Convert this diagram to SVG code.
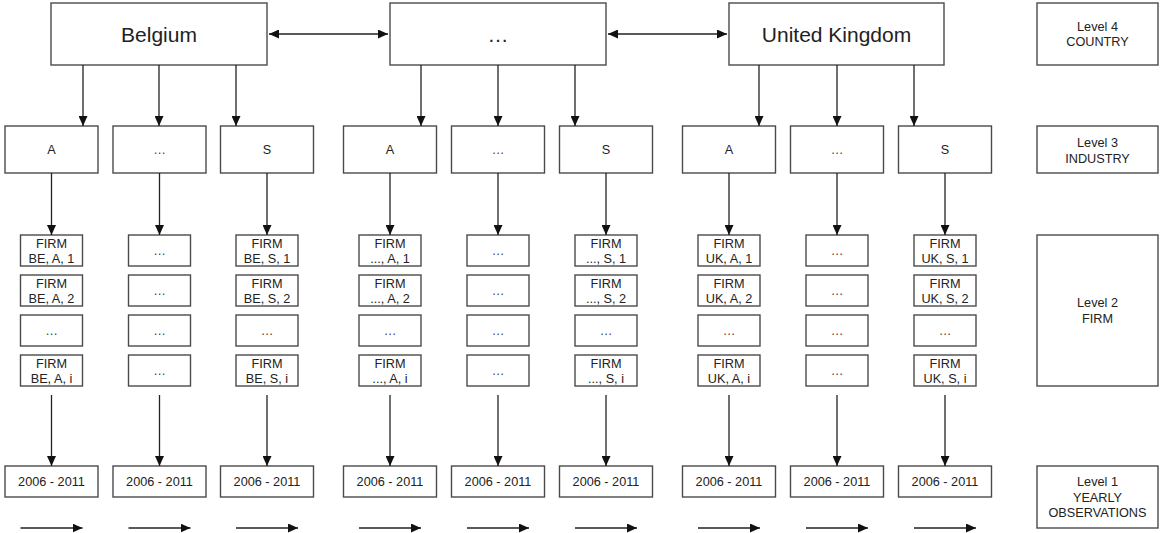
<svg xmlns="http://www.w3.org/2000/svg" width="1160" height="533" viewBox="0 0 1160 533">
  <style>
    .box { fill: #ffffff; stroke: #4a4a4a; stroke-width: 1.4; }
    .t { font-family: "Liberation Sans", Arial, Helvetica, sans-serif; font-size: 12.7px; fill: #222222; text-anchor: middle; }
    .big { font-size: 21px; }
    .dots { fill: #444444; }
    .conn line { stroke: #222222; stroke-width: 1.3; fill: none; }
    .one { marker-end: url(#ah); }
    .two { marker-start: url(#ah); marker-end: url(#ah); }
  </style>
  <defs>
    <marker id="ah" markerUnits="userSpaceOnUse" markerWidth="10" markerHeight="9" refX="10" refY="4.5" orient="auto-start-reverse">
      <path d="M0,0 L10,4.5 L0,9 Z" fill="#111111"/>
    </marker>
  </defs>
  <rect width="1160" height="533" fill="#ffffff"/>

  <!-- Level 4: countries -->
  <g id="country-be"><rect class="box" x="51" y="3" width="216" height="62"/><text class="t big" x="159" y="41.5">Belgium</text></g>
  <g id="country-mid"><rect class="box" x="390" y="3" width="216" height="62"/><text class="t big" x="498" y="41.5">…</text></g>
  <g id="country-uk"><rect class="box" x="729" y="3" width="215" height="62"/><text class="t big" x="836.5" y="41.5">United Kingdom</text></g>

  <!-- Level 3: industries -->
  <g id="ind-be-a"><rect class="box" x="5" y="126" width="93" height="47"/><text class="t" x="51.5" y="154">A</text></g>
  <g id="ind-be-mid"><rect class="box" x="113" y="126" width="93" height="47"/><text class="t dots" x="159.5" y="154">…</text></g>
  <g id="ind-be-s"><rect class="box" x="220.5" y="126" width="93" height="47"/><text class="t" x="267" y="154">S</text></g>
  <g id="ind-mid-a"><rect class="box" x="343.5" y="126" width="93" height="47"/><text class="t" x="390" y="154">A</text></g>
  <g id="ind-mid-mid"><rect class="box" x="451.5" y="126" width="93" height="47"/><text class="t dots" x="498" y="154">…</text></g>
  <g id="ind-mid-s"><rect class="box" x="559.5" y="126" width="93" height="47"/><text class="t" x="606" y="154">S</text></g>
  <g id="ind-uk-a"><rect class="box" x="682.5" y="126" width="93" height="47"/><text class="t" x="729" y="154">A</text></g>
  <g id="ind-uk-mid"><rect class="box" x="790.5" y="126" width="93" height="47"/><text class="t dots" x="837" y="154">…</text></g>
  <g id="ind-uk-s"><rect class="box" x="898.5" y="126" width="93" height="47"/><text class="t" x="945" y="154">S</text></g>

  <!-- Level 2: firms, Belgium -->
  <g id="firm-be-a-1"><rect class="box" x="20.5" y="235" width="62" height="31"/><text class="t" x="51.5" y="247.5">FIRM</text><text class="t" x="51.5" y="263">BE, A, 1</text></g>
  <g id="firm-be-a-2"><rect class="box" x="20.5" y="275" width="62" height="31"/><text class="t" x="51.5" y="287.5">FIRM</text><text class="t" x="51.5" y="303">BE, A, 2</text></g>
  <g id="firm-be-a-x"><rect class="box" x="20.5" y="315" width="62" height="31"/><text class="t dots" x="51.5" y="334.5">…</text></g>
  <g id="firm-be-a-i"><rect class="box" x="20.5" y="355" width="62" height="31"/><text class="t" x="51.5" y="367.5">FIRM</text><text class="t" x="51.5" y="383">BE, A, i</text></g>

  <g id="firm-be-m-1"><rect class="box" x="128.5" y="235" width="62" height="31"/><text class="t dots" x="159.5" y="254.5">…</text></g>
  <g id="firm-be-m-2"><rect class="box" x="128.5" y="275" width="62" height="31"/><text class="t dots" x="159.5" y="294.5">…</text></g>
  <g id="firm-be-m-x"><rect class="box" x="128.5" y="315" width="62" height="31"/><text class="t dots" x="159.5" y="334.5">…</text></g>
  <g id="firm-be-m-i"><rect class="box" x="128.5" y="355" width="62" height="31"/><text class="t dots" x="159.5" y="374.5">…</text></g>

  <g id="firm-be-s-1"><rect class="box" x="236" y="235" width="62" height="31"/><text class="t" x="267" y="247.5">FIRM</text><text class="t" x="267" y="263">BE, S, 1</text></g>
  <g id="firm-be-s-2"><rect class="box" x="236" y="275" width="62" height="31"/><text class="t" x="267" y="287.5">FIRM</text><text class="t" x="267" y="303">BE, S, 2</text></g>
  <g id="firm-be-s-x"><rect class="box" x="236" y="315" width="62" height="31"/><text class="t dots" x="267" y="334.5">…</text></g>
  <g id="firm-be-s-i"><rect class="box" x="236" y="355" width="62" height="31"/><text class="t" x="267" y="367.5">FIRM</text><text class="t" x="267" y="383">BE, S, i</text></g>

  <!-- Level 2: firms, other countries -->
  <g id="firm-mid-a-1"><rect class="box" x="359" y="235" width="62" height="31"/><text class="t" x="390" y="247.5">FIRM</text><text class="t" x="390" y="263">..., A, 1</text></g>
  <g id="firm-mid-a-2"><rect class="box" x="359" y="275" width="62" height="31"/><text class="t" x="390" y="287.5">FIRM</text><text class="t" x="390" y="303">..., A, 2</text></g>
  <g id="firm-mid-a-x"><rect class="box" x="359" y="315" width="62" height="31"/><text class="t dots" x="390" y="334.5">…</text></g>
  <g id="firm-mid-a-i"><rect class="box" x="359" y="355" width="62" height="31"/><text class="t" x="390" y="367.5">FIRM</text><text class="t" x="390" y="383">..., A, i</text></g>

  <g id="firm-mid-m-1"><rect class="box" x="467" y="235" width="62" height="31"/><text class="t dots" x="498" y="254.5">…</text></g>
  <g id="firm-mid-m-2"><rect class="box" x="467" y="275" width="62" height="31"/><text class="t dots" x="498" y="294.5">…</text></g>
  <g id="firm-mid-m-x"><rect class="box" x="467" y="315" width="62" height="31"/><text class="t dots" x="498" y="334.5">…</text></g>
  <g id="firm-mid-m-i"><rect class="box" x="467" y="355" width="62" height="31"/><text class="t dots" x="498" y="374.5">…</text></g>

  <g id="firm-mid-s-1"><rect class="box" x="575" y="235" width="62" height="31"/><text class="t" x="606" y="247.5">FIRM</text><text class="t" x="606" y="263">..., S, 1</text></g>
  <g id="firm-mid-s-2"><rect class="box" x="575" y="275" width="62" height="31"/><text class="t" x="606" y="287.5">FIRM</text><text class="t" x="606" y="303">..., S, 2</text></g>
  <g id="firm-mid-s-x"><rect class="box" x="575" y="315" width="62" height="31"/><text class="t dots" x="606" y="334.5">…</text></g>
  <g id="firm-mid-s-i"><rect class="box" x="575" y="355" width="62" height="31"/><text class="t" x="606" y="367.5">FIRM</text><text class="t" x="606" y="383">..., S, i</text></g>

  <!-- Level 2: firms, United Kingdom -->
  <g id="firm-uk-a-1"><rect class="box" x="698" y="235" width="62" height="31"/><text class="t" x="729" y="247.5">FIRM</text><text class="t" x="729" y="263">UK, A, 1</text></g>
  <g id="firm-uk-a-2"><rect class="box" x="698" y="275" width="62" height="31"/><text class="t" x="729" y="287.5">FIRM</text><text class="t" x="729" y="303">UK, A, 2</text></g>
  <g id="firm-uk-a-x"><rect class="box" x="698" y="315" width="62" height="31"/><text class="t dots" x="729" y="334.5">…</text></g>
  <g id="firm-uk-a-i"><rect class="box" x="698" y="355" width="62" height="31"/><text class="t" x="729" y="367.5">FIRM</text><text class="t" x="729" y="383">UK, A, i</text></g>

  <g id="firm-uk-m-1"><rect class="box" x="806" y="235" width="62" height="31"/><text class="t dots" x="837" y="254.5">…</text></g>
  <g id="firm-uk-m-2"><rect class="box" x="806" y="275" width="62" height="31"/><text class="t dots" x="837" y="294.5">…</text></g>
  <g id="firm-uk-m-x"><rect class="box" x="806" y="315" width="62" height="31"/><text class="t dots" x="837" y="334.5">…</text></g>
  <g id="firm-uk-m-i"><rect class="box" x="806" y="355" width="62" height="31"/><text class="t dots" x="837" y="374.5">…</text></g>

  <g id="firm-uk-s-1"><rect class="box" x="914" y="235" width="62" height="31"/><text class="t" x="945" y="247.5">FIRM</text><text class="t" x="945" y="263">UK, S, 1</text></g>
  <g id="firm-uk-s-2"><rect class="box" x="914" y="275" width="62" height="31"/><text class="t" x="945" y="287.5">FIRM</text><text class="t" x="945" y="303">UK, S, 2</text></g>
  <g id="firm-uk-s-x"><rect class="box" x="914" y="315" width="62" height="31"/><text class="t dots" x="945" y="334.5">…</text></g>
  <g id="firm-uk-s-i"><rect class="box" x="914" y="355" width="62" height="31"/><text class="t" x="945" y="367.5">FIRM</text><text class="t" x="945" y="383">UK, S, i</text></g>

  <!-- Level 1: yearly observations -->
  <g id="years-1"><rect class="box" x="5" y="466" width="93" height="31"/><text class="t" x="51.5" y="486">2006 - 2011</text></g>
  <g id="years-2"><rect class="box" x="113" y="466" width="93" height="31"/><text class="t" x="159.5" y="486">2006 - 2011</text></g>
  <g id="years-3"><rect class="box" x="220.5" y="466" width="93" height="31"/><text class="t" x="267" y="486">2006 - 2011</text></g>
  <g id="years-4"><rect class="box" x="343.5" y="466" width="93" height="31"/><text class="t" x="390" y="486">2006 - 2011</text></g>
  <g id="years-5"><rect class="box" x="451.5" y="466" width="93" height="31"/><text class="t" x="498" y="486">2006 - 2011</text></g>
  <g id="years-6"><rect class="box" x="559.5" y="466" width="93" height="31"/><text class="t" x="606" y="486">2006 - 2011</text></g>
  <g id="years-7"><rect class="box" x="682.5" y="466" width="93" height="31"/><text class="t" x="729" y="486">2006 - 2011</text></g>
  <g id="years-8"><rect class="box" x="790.5" y="466" width="93" height="31"/><text class="t" x="837" y="486">2006 - 2011</text></g>
  <g id="years-9"><rect class="box" x="898.5" y="466" width="93" height="31"/><text class="t" x="945" y="486">2006 - 2011</text></g>

  <!-- Level legend -->
  <g id="level-4"><rect class="box" x="1037" y="3" width="121" height="62"/><text class="t" x="1097.5" y="30.8">Level 4</text><text class="t" x="1097.5" y="46.3">COUNTRY</text></g>
  <g id="level-3"><rect class="box" x="1037" y="126" width="121" height="47"/><text class="t" x="1097.5" y="147">Level 3</text><text class="t" x="1097.5" y="162.5">INDUSTRY</text></g>
  <g id="level-2"><rect class="box" x="1037" y="235" width="121" height="151"/><text class="t" x="1097.5" y="307">Level 2</text><text class="t" x="1097.5" y="322.5">FIRM</text></g>
  <g id="level-1"><rect class="box" x="1037" y="466" width="121" height="62"/><text class="t" x="1097.5" y="486">Level 1</text><text class="t" x="1097.5" y="501.5">YEARLY</text><text class="t" x="1097.5" y="517">OBSERVATIONS</text></g>

  <!-- Connectors -->
  <g id="connectors" class="conn">
    <!-- between countries -->
    <line class="two" x1="269" y1="34" x2="388" y2="34"/>
    <line class="two" x1="608" y1="34" x2="727" y2="34"/>
    <!-- country to industry -->
    <line class="one" x1="83" y1="65" x2="83" y2="126"/>
    <line class="one" x1="159" y1="65" x2="159" y2="126"/>
    <line class="one" x1="236" y1="65" x2="236" y2="126"/>
    <line class="one" x1="421" y1="65" x2="421" y2="126"/>
    <line class="one" x1="498" y1="65" x2="498" y2="126"/>
    <line class="one" x1="575" y1="65" x2="575" y2="126"/>
    <line class="one" x1="759" y1="65" x2="759" y2="126"/>
    <line class="one" x1="837" y1="65" x2="837" y2="126"/>
    <line class="one" x1="914" y1="65" x2="914" y2="126"/>
    <!-- industry to firm -->
    <line class="one" x1="51.5" y1="173" x2="51.5" y2="235"/>
    <line class="one" x1="159.5" y1="173" x2="159.5" y2="235"/>
    <line class="one" x1="267" y1="173" x2="267" y2="235"/>
    <line class="one" x1="390" y1="173" x2="390" y2="235"/>
    <line class="one" x1="498" y1="173" x2="498" y2="235"/>
    <line class="one" x1="606" y1="173" x2="606" y2="235"/>
    <line class="one" x1="729" y1="173" x2="729" y2="235"/>
    <line class="one" x1="837" y1="173" x2="837" y2="235"/>
    <line class="one" x1="945" y1="173" x2="945" y2="235"/>
    <!-- firm to yearly observations -->
    <line class="one" x1="51.5" y1="395" x2="51.5" y2="466"/>
    <line class="one" x1="159.5" y1="395" x2="159.5" y2="466"/>
    <line class="one" x1="267" y1="395" x2="267" y2="466"/>
    <line class="one" x1="390" y1="395" x2="390" y2="466"/>
    <line class="one" x1="498" y1="395" x2="498" y2="466"/>
    <line class="one" x1="606" y1="395" x2="606" y2="466"/>
    <line class="one" x1="729" y1="395" x2="729" y2="466"/>
    <line class="one" x1="837" y1="395" x2="837" y2="466"/>
    <line class="one" x1="945" y1="395" x2="945" y2="466"/>
    <!-- time direction -->
    <line class="one" x1="20.5" y1="528" x2="82.5" y2="528"/>
    <line class="one" x1="128.5" y1="528" x2="190.5" y2="528"/>
    <line class="one" x1="236" y1="528" x2="298" y2="528"/>
    <line class="one" x1="359" y1="528" x2="421" y2="528"/>
    <line class="one" x1="467" y1="528" x2="529" y2="528"/>
    <line class="one" x1="575" y1="528" x2="637" y2="528"/>
    <line class="one" x1="698" y1="528" x2="760" y2="528"/>
    <line class="one" x1="806" y1="528" x2="868" y2="528"/>
    <line class="one" x1="914" y1="528" x2="976" y2="528"/>
  </g>
</svg>
